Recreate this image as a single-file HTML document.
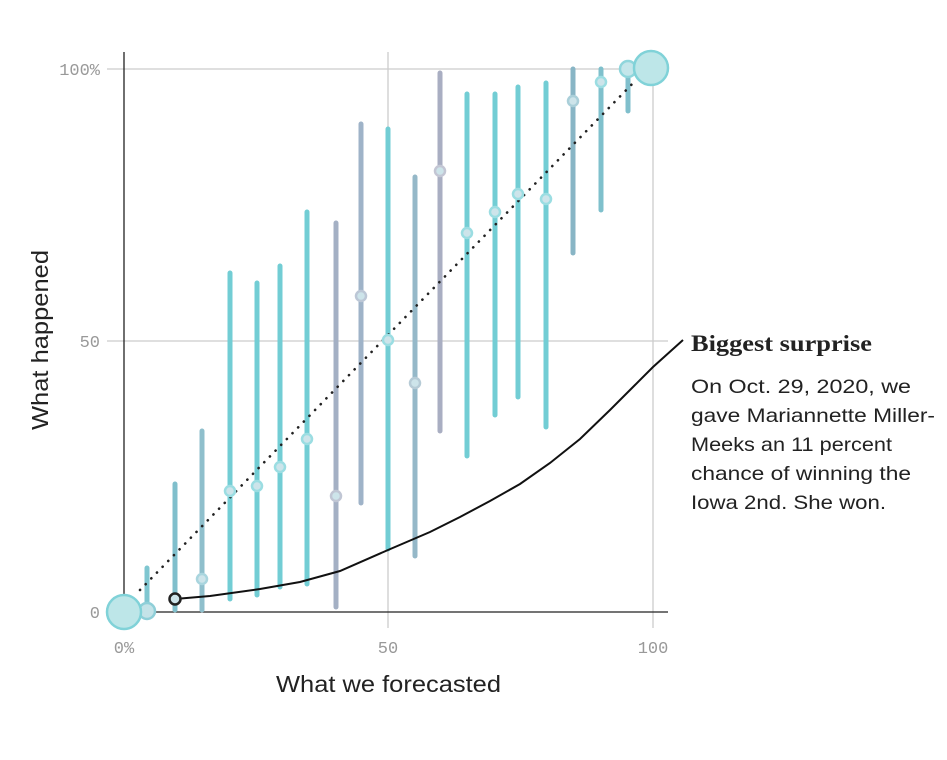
<!DOCTYPE html><html><head><style>body{margin:0;background:#fff}svg{display:block}</style></head><body>
<svg width="947" height="760" xmlns="http://www.w3.org/2000/svg" font-family="Liberation Sans, sans-serif">
<g stroke="#ccc" stroke-width="1.3"><line x1="107" y1="69" x2="668" y2="69"/><line x1="107" y1="341" x2="668" y2="341"/><line x1="388" y1="52" x2="388" y2="628"/><line x1="653" y1="52" x2="653" y2="628"/></g>
<line x1="124" y1="52" x2="124" y2="612" stroke="#222" stroke-width="1.3"/>
<line x1="124" y1="612" x2="668" y2="612" stroke="#222" stroke-width="1.3"/>
<g fill="#999" font-size="17" font-family="Liberation Mono, monospace"><text x="100" y="75" text-anchor="end">100%</text><text x="100" y="347" text-anchor="end">50</text><text x="100" y="618" text-anchor="end">0</text>
<text x="124" y="653" text-anchor="middle">0%</text><text x="388" y="653" text-anchor="middle">50</text><text x="653" y="653" text-anchor="middle">100</text></g>
<text x="276" y="692" font-size="23" fill="#222" textLength="225" lengthAdjust="spacingAndGlyphs">What we forecasted</text>
<text transform="translate(48,430) rotate(-90)" font-size="23" fill="#222" textLength="180" lengthAdjust="spacingAndGlyphs">What happened</text>
<g stroke-width="5" stroke-linecap="round">
<line x1="147" y1="568" x2="147" y2="610" stroke="#7fc6d0"/>
<line x1="175" y1="484" x2="175" y2="610" stroke="#80bfcc"/>
<line x1="202" y1="431" x2="202" y2="610" stroke="#8fbfcc"/>
<line x1="230" y1="273" x2="230" y2="599" stroke="#72cdd4"/>
<line x1="257" y1="283" x2="257" y2="595" stroke="#72cdd4"/>
<line x1="280" y1="266" x2="280" y2="587" stroke="#72cdd4"/>
<line x1="307" y1="212" x2="307" y2="584" stroke="#72cdd4"/>
<line x1="336" y1="223" x2="336" y2="607" stroke="#a4b0c4"/>
<line x1="361" y1="124" x2="361" y2="503" stroke="#9fb3c8"/>
<line x1="388" y1="129" x2="388" y2="549" stroke="#72cdd4"/>
<line x1="415" y1="177" x2="415" y2="556" stroke="#95b8c8"/>
<line x1="440" y1="73" x2="440" y2="431" stroke="#a9aec2"/>
<line x1="467" y1="94" x2="467" y2="456" stroke="#72cdd4"/>
<line x1="495" y1="94" x2="495" y2="415" stroke="#72cdd4"/>
<line x1="518" y1="87" x2="518" y2="397" stroke="#72cdd4"/>
<line x1="546" y1="83" x2="546" y2="427" stroke="#72cdd4"/>
<line x1="573" y1="69" x2="573" y2="253" stroke="#88b5c5"/>
<line x1="601" y1="69" x2="601" y2="210" stroke="#7fc0cc"/>
<line x1="628" y1="64" x2="628" y2="111" stroke="#80bfcc"/>
</g>
<line x1="140" y1="590" x2="636" y2="80" stroke="#222" stroke-width="2.6" stroke-dasharray="0.1 8" stroke-linecap="round"/>
<path d="M175,599 L210,596 L260,589 L300,582 L340,571 L388,550 L430,532 L460,517 L490,501 L520,484 L550,463 L580,439 L610,410 L635,385 L653,367 L683,340" fill="none" stroke="#111" stroke-width="2"/>
<g stroke-width="2.5" fill="#cde4ea">
<circle cx="202" cy="579" r="5" stroke="#a9d5de"/><circle cx="230" cy="491" r="5" stroke="#9bdde2"/><circle cx="257" cy="486" r="5" stroke="#9bdde2"/><circle cx="280" cy="467" r="5" stroke="#9bdde2"/><circle cx="307" cy="439" r="5" stroke="#9bdde2"/><circle cx="336" cy="496" r="5" stroke="#c0c6d4"/><circle cx="361" cy="296" r="5" stroke="#bcc7d6"/><circle cx="388" cy="340" r="5" stroke="#9bdde2"/><circle cx="415" cy="383" r="5" stroke="#b6cbd6"/><circle cx="440" cy="171" r="5" stroke="#c3c6d4"/><circle cx="467" cy="233" r="5" stroke="#9bdde2"/><circle cx="495" cy="212" r="5" stroke="#9bdde2"/><circle cx="518" cy="194" r="5" stroke="#9bdde2"/><circle cx="546" cy="199" r="5" stroke="#9bdde2"/><circle cx="573" cy="101" r="5" stroke="#aacfd9"/><circle cx="601" cy="82" r="5" stroke="#9bdde2"/>
<circle cx="147" cy="611" r="8" stroke="#8fcfd8" fill="#c4e3e8"/>
<circle cx="628" cy="69" r="8" stroke="#8fd6dc" fill="#c4e6ea"/>
<circle cx="124" cy="612" r="17" stroke="#80d2d8" fill="#bde6e8"/>
<circle cx="651" cy="68" r="17" stroke="#80d2d8" fill="#bde6e8"/>
<circle cx="175" cy="599" r="5.5" stroke="#222" stroke-width="2.5" fill="#cde4ea"/>
</g>
<text x="691" y="351" font-family="Liberation Serif, serif" font-weight="bold" font-size="23" fill="#222" textLength="181" lengthAdjust="spacingAndGlyphs">Biggest surprise</text>
<g font-size="19.5" fill="#222"><text x="691" y="393" textLength="220" lengthAdjust="spacingAndGlyphs">On Oct. 29, 2020, we</text><text x="691" y="422" textLength="244" lengthAdjust="spacingAndGlyphs">gave Mariannette Miller-</text><text x="691" y="451" textLength="201" lengthAdjust="spacingAndGlyphs">Meeks an 11 percent</text><text x="691" y="480" textLength="220" lengthAdjust="spacingAndGlyphs">chance of winning the</text><text x="691" y="509" textLength="195" lengthAdjust="spacingAndGlyphs">Iowa 2nd. She won.</text></g>
</svg></body></html>
